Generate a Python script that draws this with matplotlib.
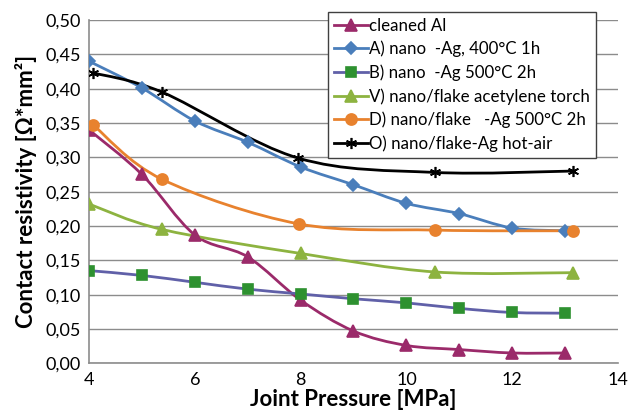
import matplotlib
matplotlib.use('Agg')
import matplotlib.pyplot as plt
from matplotlib.path import Path
from matplotlib.patches import PathPatch
from matplotlib.lines import Line2D
from matplotlib.ticker import FuncFormatter

# data
al_x = [4, 5, 6, 7, 8, 9, 10, 11, 12, 13]
al_y = [0.340, 0.275, 0.187, 0.155, 0.092, 0.047, 0.026, 0.020, 0.015, 0.015]

a_x = [4, 5, 6, 7, 8, 9, 10, 11, 12, 13]
a_y = [0.440, 0.401, 0.353, 0.322, 0.286, 0.260, 0.233, 0.218, 0.197, 0.193]

b_x = [4, 5, 6, 7, 8, 9, 10, 11, 12, 13]
b_y = [0.135, 0.128, 0.118, 0.108, 0.101, 0.094, 0.088, 0.080, 0.074, 0.073]

v_x = [4.0, 5.38, 8.0, 10.54, 13.14]
v_y = [0.232, 0.195, 0.160, 0.133, 0.132]

d_x = [4.08, 5.38, 7.97, 10.54, 13.15]
d_y = [0.347, 0.268, 0.203, 0.194, 0.193]

o_x = [4.08, 5.38, 7.95, 10.54, 13.14]
o_y = [0.423, 0.395, 0.299, 0.278, 0.280]

labels = ['cleaned Al', 'A) nano  -Ag, 400°C 1h', 'B) nano  -Ag 500°C 2h',
          'V) nano/flake acetylene torch', 'D) nano/flake   -Ag 500°C 2h',
          'O) nano/flake-Ag hot-air']

plt.rcParams['font.family'] = ['Lato', 'DejaVu Sans']


def smooth_path(xs, ys):
    # Catmull-Rom style bezier through the data points (like Excel smoothed lines)
    pts = list(zip(xs, ys))
    verts = [pts[0]]
    codes = [Path.MOVETO]
    n = len(pts)
    for i in range(n - 1):
        p0 = pts[i - 1] if i > 0 else pts[i]
        p1 = pts[i]
        p2 = pts[i + 1]
        p3 = pts[i + 2] if i + 2 < n else pts[i + 1]
        c1 = (p1[0] + (p2[0] - p0[0]) / 6, p1[1] + (p2[1] - p0[1]) / 6)
        c2 = (p2[0] - (p3[0] - p1[0]) / 6, p2[1] - (p3[1] - p1[1]) / 6)
        verts += [c1, c2, p2]
        codes += [Path.CURVE4] * 3
    return Path(verts, codes)


fig = plt.figure(figsize=(6.33, 4.16), dpi=100)
ax = fig.add_axes([0.1406, 0.1267, 0.8357, 0.8252])

series = [
    (al_x, al_y, '#9B2A6A', '#9B2A6A', '^', 8),
    (a_x, a_y, '#4A7EBB', '#4A7EBB', 'D', 6),
    (b_x, b_y, '#6060A8', '#2E9130', 's', 7),
    (v_x, v_y, '#8DB340', '#8DB340', '^', 9),
    (d_x, d_y, '#E8822E', '#E8822E', 'o', 8),
    (o_x, o_y, '#000000', '#000000', (6, 2, 0), 8),
]

handles = []
for (xs, ys, lc, mc, mk, ms), lab in zip(series, labels):
    ax.add_patch(PathPatch(smooth_path(xs, ys), facecolor='none', edgecolor=lc,
                           lw=2.0, zorder=3))
    ax.plot(xs, ys, linestyle='none', marker=mk, markersize=ms, color=mc,
            markeredgecolor=mc, markeredgewidth=1.2, zorder=4)
    handles.append(Line2D([0], [0], color=lc, lw=2.0, marker=mk, markersize=ms,
                          markerfacecolor=mc, markeredgecolor=mc,
                          markeredgewidth=1.2))

ax.set_xlim(4, 14)
ax.set_ylim(0, 0.5)
ax.set_xticks(range(4, 15, 2))
ax.set_yticks([i * 0.05 for i in range(11)])
ax.yaxis.set_major_formatter(FuncFormatter(lambda v, p: f'{v:.2f}'.replace('.', ',')))
ax.tick_params(length=0, labelsize=13, pad=6)
ax.grid(axis='y', color='#8C8C8C', lw=1.0)
ax.set_axisbelow(True)
for s in ['top', 'right']:
    ax.spines[s].set_visible(False)
for s in ['left', 'bottom']:
    ax.spines[s].set_color('#8C8C8C')
    ax.spines[s].set_linewidth(1.2)

ax.set_xlabel('Joint Pressure [MPa]', fontsize=16, fontweight='bold', labelpad=1)
ax.set_ylabel('Contact resistivity [Ω*mm²]', fontsize=16, fontweight='bold', labelpad=6)

leg = fig.legend(handles, labels, loc='upper left', bbox_to_anchor=(0.518, 0.972),
                 fontsize=12.2, frameon=True, fancybox=False, handlelength=2.0,
                 handletextpad=0.1, labelspacing=0.42, borderpad=0.35,
                 borderaxespad=0)
leg.get_frame().set_edgecolor('#404040')
leg.get_frame().set_linewidth(1.0)
leg.get_frame().set_alpha(1)

fig.savefig('out.png', dpi=100)
